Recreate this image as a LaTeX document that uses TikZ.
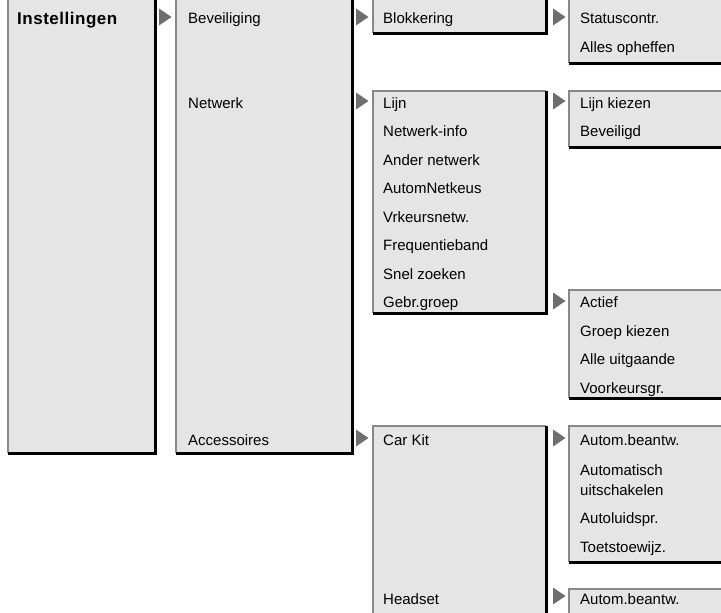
\documentclass[tikz,border=0pt]{standalone}
\usepackage{fontspec}
\setmainfont{Liberation Sans}
\newfontfamily\headfont[LetterSpace=3]{Liberation Sans Bold}
\definecolor{boxgrey}{HTML}{E5E5E5}
\definecolor{edgegrey}{HTML}{888888}
\definecolor{arrowgrey}{HTML}{6E6E6E}
\newcommand\menubox[5]{%
  \node[menubg, anchor=north west, minimum width={(#4-#2)*1pt}, minimum height={(#5-#3)*1pt}] (#1) at (#2,#3) {};
  \draw[lightedge] (#1.south west) -- (#1.north west) -- (#1.north east);
  \draw[darkedge] (#1.south west) -- (#1.south east) -- (#1.north east);
}
\newcommand\tri[3]{%
  \coordinate (#1) at (#2,#3);
  \fill[arrowgrey] (#1) ++(0,-8.5) -- ++(12.5,8.5) -- ++(-12.5,8.5) -- cycle;
}
\begin{document}
\begin{tikzpicture}[x=1pt,y=-1pt,
  menubg/.style={fill=boxgrey, draw=none, inner sep=0pt, outer sep=0pt},
  lightedge/.style={draw=edgegrey, line width=1.5pt},
  darkedge/.style={draw=black, line width=3pt},
  item/.style={anchor=west, inner sep=0pt, text height=10.7pt, text depth=0pt, font=\fontsize{15}{18}\selectfont},
  head/.style={item, text height=12.2pt, font=\fontsize{17}{20}\headfont}]
\useasboundingbox (0,0) rectangle (721,613);
\begin{scope}[overlay]
\clip (0,0) rectangle (721,613);
% boxes
\menubox{A}{8}{-3}{155}{453}
\menubox{B}{176}{-3}{352}{453}
\menubox{C1}{373}{-3}{546}{33}
\menubox{D1}{569}{-3}{725}{63}
\menubox{C2}{373}{91}{546}{313}
\menubox{D2}{569}{91}{725}{147}
\menubox{D3}{569}{290}{725}{398}
\menubox{C3}{373}{426}{546}{618}
\menubox{D4}{569}{426}{725}{562}
\menubox{D5}{569}{589}{725}{618}
% arrows
\tri{t1}{159}{17}
\tri{t2}{356}{17}
\tri{t3}{553}{17}
\tri{t4}{356}{101}
\tri{t5}{553}{101}
\tri{t6}{553}{301}
\tri{t7}{356}{438}
\tri{t8}{553}{438}
\tri{t9}{553}{596}
% texts
\node[head] (a1) at (17,18.5) {Instellingen};
\node[item] (b1) at (188,18.5) {Beveiliging};
\node[item] (b2) at (188,103) {Netwerk};
\node[item] (b3) at (188,440) {Accessoires};
\node[item] (c11) at (383,18.5) {Blokkering};
\node[item] (d11) at (580,18.5) {Statuscontr.};
\node[item] (d12) at (580,47) {Alles opheffen};
\node[item] (c21) at (383,103) {Lijn};
\node[item] (c22) at (383,131.5) {Netwerk-info};
\node[item] (c23) at (383,160) {Ander netwerk};
\node[item] (c24) at (383,188.5) {AutomNetkeus};
\node[item] (c25) at (383,217) {Vrkeursnetw.};
\node[item] (c26) at (383,245.5) {Frequentieband};
\node[item] (c27) at (383,274) {Snel zoeken};
\node[item] (c28) at (383,302.5) {Gebr.groep};
\node[item] (d21) at (580,103) {Lijn kiezen};
\node[item] (d22) at (580,131.5) {Beveiligd};
\node[item] (d31) at (580,302.5) {Actief};
\node[item] (d32) at (580,331) {Groep kiezen};
\node[item] (d33) at (580,359.5) {Alle uitgaande};
\node[item] (d34) at (580,388) {Voorkeursgr.};
\node[item] (c31) at (383,440) {Car Kit};
\node[item] (c32) at (383,599) {Headset};
\node[item] (d41) at (580,440) {Autom.beantw.};
\node[item] (d42) at (580,470) {Automatisch};
\node[item] (d43) at (580,490) {uitschakelen};
\node[item] (d44) at (580,518) {Autoluidspr.};
\node[item] (d45) at (580,547) {Toetstoewijz.};
\node[item] (d51) at (580,599) {Autom.beantw.};
\end{scope}
\end{tikzpicture}
\end{document}
